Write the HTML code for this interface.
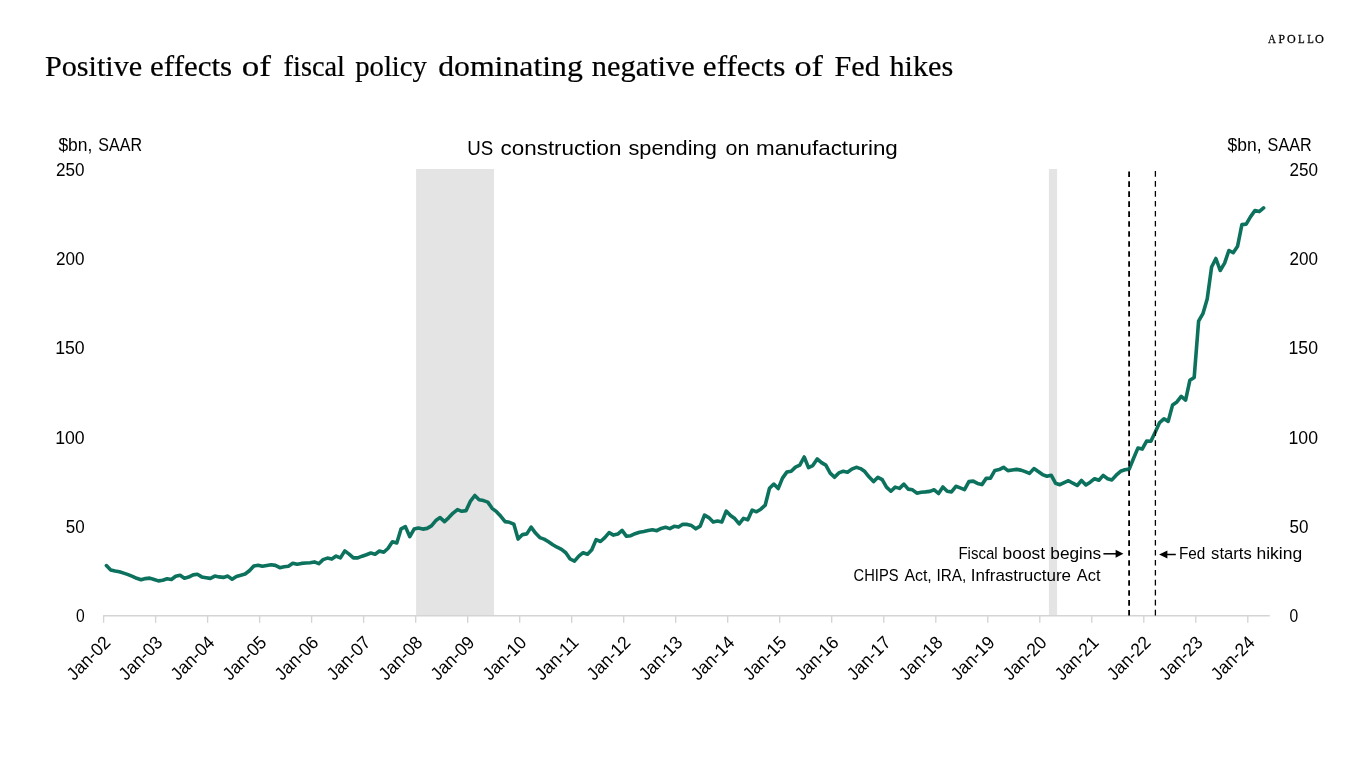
<!DOCTYPE html>
<html lang="en"><head><meta charset="utf-8"><title>US construction spending on manufacturing</title>
<style>html,body{margin:0;padding:0;background:#fff;}body{width:1366px;height:768px;overflow:hidden;}svg{display:block;will-change:transform;}text{font-family:"Liberation Sans", sans-serif;fill:#000;}.s{font-family:"Liberation Serif", serif;}</style></head><body>
<svg width="1366" height="768" viewBox="0 0 1366 768">
<rect x="0" y="0" width="1366" height="768" fill="#ffffff"/>
<rect x="416.1" y="169" width="77.9" height="446.5" fill="#e4e4e4"/>
<rect x="1048.9" y="169" width="8.2" height="446.5" fill="#e4e4e4"/>
<path d="M103.2 615.7H1269.8" stroke="#d4d4d4" stroke-width="1.5" fill="none"/>
<path d="M103.6 615.7V622.7M155.6 615.7V622.7M207.6 615.7V622.7M259.6 615.7V622.7M311.6 615.7V622.7M363.6 615.7V622.7M415.7 615.7V622.7M467.7 615.7V622.7M519.7 615.7V622.7M571.7 615.7V622.7M623.7 615.7V622.7M675.7 615.7V622.7M727.7 615.7V622.7M779.7 615.7V622.7M831.7 615.7V622.7M883.8 615.7V622.7M935.8 615.7V622.7M987.8 615.7V622.7M1039.8 615.7V622.7M1091.8 615.7V622.7M1143.8 615.7V622.7M1195.8 615.7V622.7M1247.8 615.7V622.7" stroke="#d4d4d4" stroke-width="1.35" fill="none"/>
<polyline points="106.4,565.6 110.7,569.9 115.1,570.9 119.4,571.7 123.7,573.1 128.1,574.6 132.4,576.3 136.7,578.3 141.1,579.8 145.4,578.6 149.7,578.1 154.1,579.5 158.4,580.9 162.7,580.2 167.1,578.8 171.4,579.5 175.7,576.3 180.1,575.3 184.4,578.3 188.7,577.1 193.1,574.9 197.4,574.3 201.7,576.9 206.1,577.7 210.4,578.4 214.8,576.1 219.1,576.9 223.4,577.4 227.8,576.1 232.1,579.2 236.4,576.4 240.8,575.2 245.1,574.0 249.4,570.7 253.8,566.0 258.1,565.2 262.4,566.2 266.8,565.4 271.1,564.7 275.4,565.4 279.8,567.7 284.1,566.7 288.4,566.2 292.8,563.2 297.1,564.2 301.4,563.4 305.8,563.0 310.1,562.7 314.4,561.9 318.8,563.7 323.1,559.6 327.4,558.1 331.8,559.1 336.1,556.1 340.4,557.9 344.8,550.9 349.1,554.1 353.4,557.9 357.8,557.9 362.1,556.2 366.4,554.7 370.8,553.0 375.1,554.2 379.4,551.0 383.8,552.2 388.1,548.2 392.4,541.7 396.8,543.0 401.1,528.8 405.4,526.6 409.8,536.7 414.1,529.1 418.4,528.1 422.8,529.1 427.1,528.4 431.4,525.9 435.8,520.6 440.1,517.6 444.5,521.6 448.8,517.6 453.1,513.1 457.5,509.6 461.8,511.3 466.1,510.6 470.5,501.1 474.8,495.5 479.1,499.8 483.5,500.6 487.8,502.1 492.1,508.3 496.5,511.7 500.8,516.3 505.1,521.6 509.5,522.3 513.8,524.1 518.1,539.1 522.5,534.6 526.8,533.9 531.1,527.1 535.5,533.1 539.8,537.6 544.1,539.1 548.5,541.7 552.8,544.7 557.1,547.2 561.5,549.4 565.8,552.7 570.1,559.0 574.5,561.2 578.8,556.2 583.1,552.7 587.5,554.2 591.8,549.7 596.1,539.6 600.5,541.5 604.8,537.6 609.1,532.6 613.5,535.1 617.8,534.1 622.1,530.4 626.5,536.3 630.8,535.7 635.1,533.7 639.5,532.2 643.8,531.4 648.1,530.5 652.5,529.8 656.8,530.7 661.2,528.4 665.5,527.3 669.8,528.6 674.2,526.3 678.5,527.1 682.8,524.3 687.2,524.4 691.5,525.6 695.8,528.8 700.2,526.1 704.5,515.1 708.8,517.6 713.2,522.1 717.5,521.1 721.8,522.1 726.2,511.1 730.5,515.6 734.8,518.6 739.2,523.8 743.5,518.4 747.8,519.8 752.2,510.1 756.5,511.8 760.8,509.2 765.2,505.2 769.5,488.3 773.8,484.1 778.2,488.6 782.5,478.1 786.8,472.1 791.2,471.3 795.5,467.1 799.8,465.1 804.2,457.0 808.5,467.6 812.8,465.6 817.2,459.0 821.5,462.6 825.8,465.1 830.2,473.1 834.5,477.3 838.8,472.9 843.2,471.3 847.5,472.3 851.8,469.1 856.2,467.3 860.5,468.6 864.8,471.6 869.2,477.1 873.5,481.6 877.9,477.3 882.2,479.6 886.5,487.1 890.9,491.2 895.2,487.1 899.5,488.4 903.9,484.1 908.2,489.1 912.5,489.8 916.9,493.2 921.2,492.2 925.5,491.9 929.9,491.4 934.2,489.8 938.5,493.5 942.9,486.9 947.2,491.2 951.5,491.9 955.9,486.3 960.2,487.9 964.5,489.6 968.9,481.6 973.2,481.1 977.5,483.4 981.9,484.6 986.2,478.4 990.5,478.1 994.9,470.4 999.2,469.6 1003.5,467.3 1007.9,470.6 1012.2,470.0 1016.5,469.4 1020.9,470.1 1025.2,471.6 1029.5,473.4 1033.9,468.6 1038.2,471.6 1042.5,474.6 1046.9,476.2 1051.2,475.2 1055.5,483.2 1059.9,484.7 1064.2,482.7 1068.5,480.7 1072.9,483.2 1077.2,485.5 1081.5,480.5 1085.9,485.0 1090.2,482.2 1094.6,478.7 1098.9,480.2 1103.2,475.4 1107.6,478.7 1111.9,479.9 1116.2,475.2 1120.6,471.3 1124.9,469.8 1129.2,469.1 1133.6,458.3 1137.9,448.1 1142.2,449.1 1146.6,441.1 1150.9,441.3 1155.2,432.3 1159.6,422.6 1163.9,418.8 1168.2,421.4 1172.6,404.9 1176.9,401.9 1181.2,396.4 1185.6,400.1 1189.9,380.2 1194.2,377.4 1198.6,321.2 1202.9,313.7 1207.2,299.1 1211.6,267.0 1215.9,258.5 1220.2,270.5 1224.6,263.1 1228.9,250.5 1233.2,252.7 1237.6,246.2 1241.9,224.6 1246.2,224.1 1250.6,216.6 1254.9,210.6 1259.2,211.6 1263.6,207.9" fill="none" stroke="#0c715d" stroke-width="3.6" stroke-linejoin="round" stroke-linecap="round"/>
<path d="M1129.1 171.4V615.5" stroke="#000" stroke-width="1.8" stroke-dasharray="5.6 4.37" fill="none"/>
<path d="M1155.4 171.1V615.5" stroke="#000" stroke-width="1.3" stroke-dasharray="5.6 4.37" fill="none"/>
<text class="s" transform="translate(44.90 75.80) scale(1.0604 1)" font-size="28.5" stroke="#000" stroke-width="0.2">Positive</text>
<text class="s" transform="translate(150.11 75.80) scale(1.0883 1)" font-size="28.5" stroke="#000" stroke-width="0.2">effects</text>
<text class="s" transform="translate(241.77 75.80) scale(1.2301 1)" font-size="28.5" stroke="#000" stroke-width="0.2">of</text>
<text class="s" transform="translate(283.60 75.80) scale(0.9952 1)" font-size="28.5" stroke="#000" stroke-width="0.2">fiscal</text>
<text class="s" transform="translate(355.20 75.80) scale(1.0071 1)" font-size="28.5" stroke="#000" stroke-width="0.2">policy</text>
<text class="s" transform="translate(438.19 75.80) scale(1.1138 1)" font-size="28.5" stroke="#000" stroke-width="0.2">dominating</text>
<text class="s" transform="translate(591.80 75.80) scale(1.0669 1)" font-size="28.5" stroke="#000" stroke-width="0.2">negative</text>
<text class="s" transform="translate(702.81 75.80) scale(1.0937 1)" font-size="28.5" stroke="#000" stroke-width="0.2">effects</text>
<text class="s" transform="translate(794.50 75.80) scale(1.2000 1)" font-size="28.5" stroke="#000" stroke-width="0.2">of</text>
<text class="s" transform="translate(834.60 75.80) scale(1.0588 1)" font-size="28.5" stroke="#000" stroke-width="0.2">Fed</text>
<text class="s" transform="translate(889.50 75.80) scale(1.0605 1)" font-size="28.5" stroke="#000" stroke-width="0.2">hikes</text>
<text class="s" transform="translate(1267.90 42.60) scale(0.8778 1)" font-size="12.6" fill="#111" stroke="#111" stroke-width="0.3">A</text>
<text class="s" transform="translate(1278.50 42.60) scale(0.9143 1)" font-size="12.6" fill="#111" stroke="#111" stroke-width="0.3">P</text>
<text class="s" transform="translate(1286.90 42.60) scale(0.9556 1)" font-size="12.6" fill="#111" stroke="#111" stroke-width="0.3">O</text>
<text class="s" transform="translate(1298.10 42.60) scale(0.8714 1)" font-size="12.6" fill="#111" stroke="#111" stroke-width="0.3">L</text>
<text class="s" transform="translate(1307.20 42.60) scale(0.8571 1)" font-size="12.6" fill="#111" stroke="#111" stroke-width="0.3">L</text>
<text class="s" transform="translate(1314.90 42.60) scale(0.9722 1)" font-size="12.6" fill="#111" stroke="#111" stroke-width="0.3">O</text>
<text transform="translate(58.40 150.60) scale(0.9608 1)" font-size="18.2">$bn,</text>
<text transform="translate(98.30 150.60) scale(0.8827 1)" font-size="18.2">SAAR</text>
<text transform="translate(1227.60 150.80) scale(0.9608 1)" font-size="18.2">$bn,</text>
<text transform="translate(1267.60 150.80) scale(0.8888 1)" font-size="18.2">SAAR</text>
<text transform="translate(75.90 622.10) scale(0.8600 1)" font-size="18.2">0</text>
<text transform="translate(1289.50 622.10) scale(0.8600 1)" font-size="18.2">0</text>
<text transform="translate(65.70 532.80) scale(0.9346 1)" font-size="18.2">50</text>
<text transform="translate(1289.50 532.80) scale(0.9346 1)" font-size="18.2">50</text>
<text transform="translate(55.13 443.50) scale(0.9716 1)" font-size="18.2">100</text>
<text transform="translate(1288.53 443.50) scale(0.9716 1)" font-size="18.2">100</text>
<text transform="translate(55.13 354.20) scale(0.9716 1)" font-size="18.2">150</text>
<text transform="translate(1288.53 354.20) scale(0.9716 1)" font-size="18.2">150</text>
<text transform="translate(56.10 264.90) scale(0.9395 1)" font-size="18.2">200</text>
<text transform="translate(1289.50 264.90) scale(0.9395 1)" font-size="18.2">200</text>
<text transform="translate(56.10 175.60) scale(0.9395 1)" font-size="18.2">250</text>
<text transform="translate(1289.50 175.60) scale(0.9395 1)" font-size="18.2">250</text>
<text transform="translate(467.20 155.30) scale(0.8994 1)" font-size="20.8">US</text>
<text transform="translate(500.50 155.30) scale(1.0792 1)" font-size="20.8">construction</text>
<text transform="translate(628.40 155.30) scale(1.0471 1)" font-size="20.8">spending</text>
<text transform="translate(725.50 155.30) scale(1.0281 1)" font-size="20.8">on</text>
<text transform="translate(756.02 155.30) scale(1.0759 1)" font-size="20.8">manufacturing</text>
<text transform="translate(958.42 558.50) scale(0.8847 1)" font-size="17">Fiscal</text>
<text transform="translate(1002.58 558.50) scale(1.0229 1)" font-size="17">boost</text>
<text transform="translate(1050.28 558.50) scale(1.0166 1)" font-size="17">begins</text>
<text transform="translate(853.60 580.50) scale(0.8641 1)" font-size="17">CHIPS</text>
<text transform="translate(904.40 580.50) scale(0.9348 1)" font-size="17">Act,</text>
<text transform="translate(936.40 580.50) scale(0.9030 1)" font-size="17">IRA,</text>
<text transform="translate(970.80 580.50) scale(1.0011 1)" font-size="17">Infrastructure</text>
<text transform="translate(1076.80 580.50) scale(0.9622 1)" font-size="17">Act</text>
<text transform="translate(1178.90 559.40) scale(0.9016 1)" font-size="17">Fed</text>
<text transform="translate(1211.10 559.40) scale(0.9766 1)" font-size="17">starts</text>
<text transform="translate(1256.47 559.40) scale(1.0288 1)" font-size="17">hiking</text>
<text transform="translate(111.50 643.70) rotate(-45) translate(-53.00 0) scale(0.9550 1)" font-size="18.2">Jan-02</text>
<text transform="translate(163.51 643.70) rotate(-45) translate(-53.00 0) scale(0.9550 1)" font-size="18.2">Jan-03</text>
<text transform="translate(215.52 643.70) rotate(-45) translate(-53.00 0) scale(0.9550 1)" font-size="18.2">Jan-04</text>
<text transform="translate(267.53 643.70) rotate(-45) translate(-53.00 0) scale(0.9550 1)" font-size="18.2">Jan-05</text>
<text transform="translate(319.54 643.70) rotate(-45) translate(-53.00 0) scale(0.9550 1)" font-size="18.2">Jan-06</text>
<text transform="translate(371.55 643.70) rotate(-45) translate(-53.00 0) scale(0.9550 1)" font-size="18.2">Jan-07</text>
<text transform="translate(423.56 643.70) rotate(-45) translate(-53.00 0) scale(0.9550 1)" font-size="18.2">Jan-08</text>
<text transform="translate(475.57 643.70) rotate(-45) translate(-53.00 0) scale(0.9550 1)" font-size="18.2">Jan-09</text>
<text transform="translate(527.58 643.70) rotate(-45) translate(-53.00 0) scale(0.9550 1)" font-size="18.2">Jan-10</text>
<text transform="translate(579.59 643.70) rotate(-45) translate(-53.00 0) scale(0.9789 1)" font-size="18.2">Jan-11</text>
<text transform="translate(631.60 643.70) rotate(-45) translate(-53.00 0) scale(0.9550 1)" font-size="18.2">Jan-12</text>
<text transform="translate(683.61 643.70) rotate(-45) translate(-53.00 0) scale(0.9550 1)" font-size="18.2">Jan-13</text>
<text transform="translate(735.62 643.70) rotate(-45) translate(-53.00 0) scale(0.9550 1)" font-size="18.2">Jan-14</text>
<text transform="translate(787.63 643.70) rotate(-45) translate(-53.00 0) scale(0.9550 1)" font-size="18.2">Jan-15</text>
<text transform="translate(839.64 643.70) rotate(-45) translate(-53.00 0) scale(0.9550 1)" font-size="18.2">Jan-16</text>
<text transform="translate(891.65 643.70) rotate(-45) translate(-53.00 0) scale(0.9550 1)" font-size="18.2">Jan-17</text>
<text transform="translate(943.66 643.70) rotate(-45) translate(-53.00 0) scale(0.9550 1)" font-size="18.2">Jan-18</text>
<text transform="translate(995.67 643.70) rotate(-45) translate(-53.00 0) scale(0.9550 1)" font-size="18.2">Jan-19</text>
<text transform="translate(1047.68 643.70) rotate(-45) translate(-53.00 0) scale(0.9550 1)" font-size="18.2">Jan-20</text>
<text transform="translate(1099.69 643.70) rotate(-45) translate(-53.00 0) scale(0.9550 1)" font-size="18.2">Jan-21</text>
<text transform="translate(1151.70 643.70) rotate(-45) translate(-53.00 0) scale(0.9550 1)" font-size="18.2">Jan-22</text>
<text transform="translate(1203.71 643.70) rotate(-45) translate(-53.00 0) scale(0.9550 1)" font-size="18.2">Jan-23</text>
<text transform="translate(1255.72 643.70) rotate(-45) translate(-53.00 0) scale(0.9550 1)" font-size="18.2">Jan-24</text>
<path d="M1103.4 553.8H1117" stroke="#000" stroke-width="1.5" fill="none"/><path d="M1123.4 553.8L1115.6 549.8V557.8Z" fill="#000"/>
<path d="M1175.8 554.5H1166" stroke="#000" stroke-width="1.5" fill="none"/><path d="M1159.1 554.5L1167.4 550.4V558.6Z" fill="#000"/>
</svg></body></html>
